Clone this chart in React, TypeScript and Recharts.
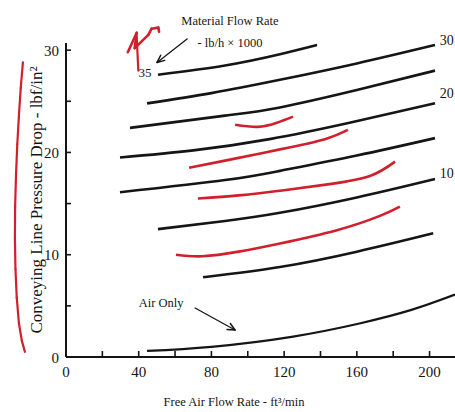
import { LineChart, Line, XAxis, YAxis, ReferenceLine, ReferenceDot } from 'recharts';

// conveying line pressure drop (lbf/in2) vs free air flow (ft3/min), one curve per material rate (lb/h x 1000)
const rate35 = [[50.6, 27.6], [87.5, 28.5], [117.7, 29.6], [138.1, 30.5]];
const rate30 = [[44.6, 24.8], [80, 25.8], [117.7, 27.1], [160, 28.7], [203, 30.5]];
const rate25 = [[35.2, 22.4], [87.5, 23.6], [117.7, 24.4], [160, 26.1], [203, 28.0]];
const rate20 = [[29.7, 19.5], [70, 20.2], [112, 21.3], [156, 22.9], [203, 24.8]];
const rate15 = [[29.7, 16.1], [87.5, 17.3], [117.7, 18.2], [160, 19.7], [203, 21.4]];
const rate10 = [[50.6, 12.5], [87.5, 13.3], [117.7, 14.1], [160, 15.6], [203, 17.4]];
const rate5 = [[75.4, 7.8], [117.7, 8.8], [160, 10.3], [202, 12.1]];
const airOnly = [[44.6, 0.6], [80, 1.0], [125, 2.0], [162, 3.3], [190, 4.6], [214, 6.1]];

// red hand-drawn curves
const redA = [[93, 22.7], [105.6, 22.5], [116, 22.9], [124.9, 23.5]];
const redB = [[67.7, 18.5], [87.5, 19.2], [117.7, 20.3], [142.5, 21.3], [155.1, 22.2]];
const redC = [[72.6, 15.5], [95, 15.8], [120, 16.3], [145, 16.9], [167.2, 17.7], [181, 19.1]];
const redD = [[60.5, 10.0], [75, 9.85], [95, 10.3], [117.7, 11.1], [149, 12.4], [172.7, 13.8], [183.7, 14.7]];

// red pen marks outside the plot
const leftMark = [[-23.7, 28.8], [-24.9, 26.3], [-25.9, 23.6], [-26.8, 20.8], [-27.5, 17.8], [-28.0, 14.6], [-28.1, 11.6], [-27.8, 8.6], [-27.1, 5.8], [-25.9, 3.3], [-24.3, 1.6], [-22.6, 0.5]];
const scribble = [[34.0, 29.8], [38.9, 31.7], [37.8, 30.2], [45.3, 31.5], [47.1, 32.1], [50.8, 32.2], [51.2, 31.8]];
const scribbleStem = [[38.9, 31.3], [39.8, 28.0]];

// arrows
const rateArrow = [[66.6, 31.1], [50.1, 28.8]];
const rateHead = [[54.3, 29.0], [50.1, 28.8], [52.1, 29.5]];
const airArrow = [[71.0, 4.79], [93.0, 2.64]];
const airHead = [[90.4, 3.27], [93.0, 2.64], [88.6, 2.69]];

const xTicks = [0, 20, 40, 60, 80, 100, 120, 140, 160, 180, 200];
const yTicks = [0, 5, 10, 15, 20, 25, 30];
const xLabels = [0, 40, 80, 120, 160, 200];
const yLabels = [0, 10, 20, 30];

const ink = '#151515';
const pen = '#d11f2c';
const serif = '"Liberation Serif", "Times New Roman", serif';

const toPts = (pairs: number[][]) => pairs.map(([x, y]) => ({ x, y }));
const segs = (pts: number[][]) => pts.slice(1).map((p, i) => [pts[i], p]);

const blackCurves = [rate35, rate30, rate25, rate20, rate15, rate10, rate5];
const redCurves = [redA, redB, redC, redD];

function XTick(props: any) {
  const { x, y, payload } = props;
  const v = payload.value;
  return (
    <g>
      {v > 0 && <line x1={x} y1={y} x2={x} y2={y - 6} stroke={ink} strokeWidth={1.6} />}
      {xLabels.includes(v) && (
        <text x={x} y={y + 20} textAnchor="middle" fontFamily={serif} fontSize={15} fill={ink}>
          {v}
        </text>
      )}
    </g>
  );
}

function YTick(props: any) {
  const { x, y, payload } = props;
  const v = payload.value;
  return (
    <g>
      {v > 0 && <line x1={x} y1={y} x2={x + 5} y2={y} stroke={ink} strokeWidth={1.6} />}
      {yLabels.includes(v) && (
        <text x={x - 7} y={y + 5.5} textAnchor="end" fontFamily={serif} fontSize={15} fill={ink}>
          {v}
        </text>
      )}
    </g>
  );
}

const notes = [
  { id: 'mfr', x: 90.2, y: 32.9, text: 'Material Flow Rate', size: 12.5, anchor: 'middle' },
  { id: 'unit', x: 90.2, y: 30.7, text: '- lb/h \u00d7 1000', size: 12.5, anchor: 'middle' },
  { id: 'r35', x: 43.5, y: 27.8, text: '35', size: 13, anchor: 'middle' },
  { id: 'air', x: 52.3, y: 5.3, text: 'Air Only', size: 12.5, anchor: 'middle' },
  { id: 'r30', x: 205.6, y: 31.0, text: '30', size: 14, anchor: 'start' },
  { id: 'r20', x: 205.6, y: 25.8, text: '20', size: 14, anchor: 'start' },
  { id: 'r10', x: 205.6, y: 18.0, text: '10', size: 14, anchor: 'start' },
];

function penLines(pts: number[][], color: string, width: number, key: string) {
  return segs(pts).map(([a, b], i) => (
    <ReferenceLine
      key={key + i}
      segment={[{ x: a[0], y: a[1] }, { x: b[0], y: b[1] }]}
      stroke={color}
      strokeWidth={width}
      strokeLinecap="round"
      ifOverflow="visible"
    />
  ));
}

export default function App() {
  return (
    <div style={{ position: 'fixed', left: 0, top: 0, background: '#fff' }}>
      <LineChart width={455} height={412} margin={{ top: 43, right: 0, bottom: 0, left: 0 }}>
        <XAxis
          type="number"
          dataKey="x"
          domain={[0, 214]}
          ticks={xTicks}
          allowDataOverflow
          height={55}
          tickSize={0}
          tickMargin={0}
          tickLine={false}
          tick={XTick}
          axisLine={{ stroke: ink, strokeWidth: 2 }}
          label={(p: any) => (
            <text x={p.viewBox.x + 168} y={p.viewBox.y + 49} textAnchor="middle" fontFamily={serif} fontSize={12.5} fill={ink}>
              Free Air Flow Rate - ft³/min
            </text>
          )}
        />
        <YAxis
          type="number"
          domain={[0, 30.7]}
          ticks={yTicks}
          allowDataOverflow
          width={66}
          tickSize={0}
          tickMargin={0}
          tickLine={false}
          tick={YTick}
          axisLine={{ stroke: ink, strokeWidth: 2 }}
          label={(p: any) => {
            const cx = p.viewBox.x + 42;
            const cy = p.viewBox.y + p.viewBox.height / 2;
            return (
              <text x={cx} y={cy} transform={`rotate(-90 ${cx} ${cy})`} textAnchor="middle" fontFamily={serif} fontSize={17} fill={ink}>
                Conveying Line Pressure Drop - lbf/in²
              </text>
            );
          }}
        />
        {blackCurves.map((d, i) => (
          <Line key={'k' + i} data={toPts(d)} dataKey="y" type="natural" stroke={ink} strokeWidth={2.6} dot={false} activeDot={false} isAnimationActive={false} />
        ))}
        <Line data={toPts(airOnly)} dataKey="y" type="natural" stroke={ink} strokeWidth={2.3} dot={false} activeDot={false} isAnimationActive={false} />
        {redCurves.map((d, i) => (
          <Line key={'r' + i} data={toPts(d)} dataKey="y" type="natural" stroke={pen} strokeWidth={2.6} dot={false} activeDot={false} isAnimationActive={false} />
        ))}
        {penLines(leftMark, pen, 2.2, 'lm')}
        {penLines(scribble, pen, 2.6, 'sc')}
        {penLines(scribbleStem, pen, 2.2, 'st')}
        {penLines(rateArrow, ink, 1.3, 'ra')}
        {penLines(rateHead, ink, 1.5, 'rh')}
        {penLines(airArrow, ink, 1.3, 'aa')}
        {penLines(airHead, ink, 1.5, 'ah')}
        {notes.map((n) => (
          <ReferenceDot
            key={n.id}
            x={n.x}
            y={n.y}
            r={0}
            ifOverflow="visible"
            shape={(p: any) => (
              <text x={p.cx} y={p.cy} dy="0.35em" textAnchor={n.anchor as any} fontFamily={serif} fontSize={n.size} fill={ink}>
                {n.text}
              </text>
            )}
          />
        ))}
      </LineChart>
    </div>
  );
}
